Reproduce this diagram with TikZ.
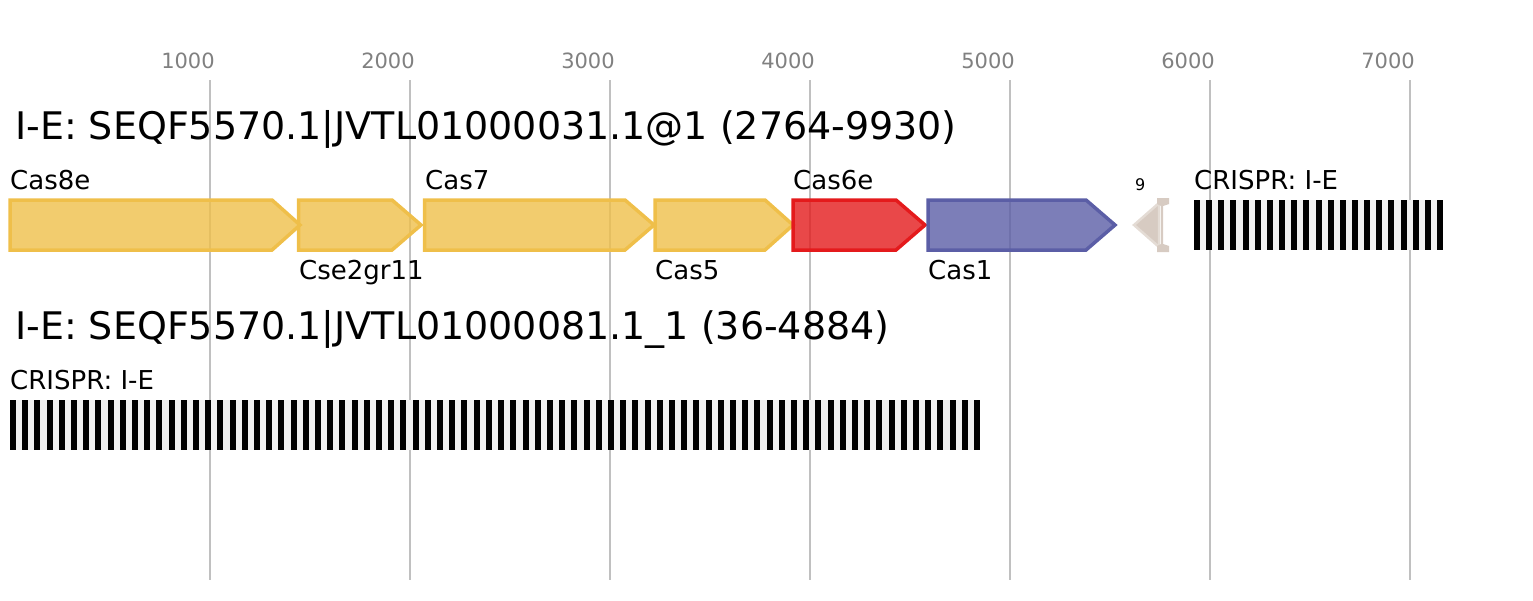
\documentclass[tikz,border=0pt]{standalone}
\usepackage{fontspec}
\setmainfont{DejaVu Sans}
\definecolor{gridgray}{HTML}{C0C0C0}
\definecolor{tickgray}{HTML}{808080}
\definecolor{geneyellow}{HTML}{EFBF4A}
\definecolor{genered}{HTML}{E41A1C}
\definecolor{geneblue}{HTML}{5B5EA6}
\definecolor{genebeige}{HTML}{D7CBC2}
\definecolor{genebeigeedge}{HTML}{E4DCD5}
\definecolor{spacergray}{HTML}{F0F0F0}
\newcommand\drawgeneR[4]{%
  \draw[genebox, draw=#4, fill=#4] (#1,200) -- (#2,200) -- (#3,225) -- (#2,250) -- (#1,250) -- cycle;}
\begin{document}
\begin{tikzpicture}[x=1pt,y=-1pt,
  gridline/.style={draw=gridgray, line width=2pt},
  genebox/.style={line width=3.5pt, line join=miter, fill opacity=0.8},
  ticklbl/.style={font=\fontsize{21}{21}\selectfont, text=tickgray, anchor=base, inner sep=0pt},
  tracktitle/.style={font=\fontsize{38}{38}\selectfont, anchor=base west, inner sep=0pt},
  genelbl/.style={font=\fontsize{26}{26}\selectfont, anchor=base west, inner sep=0pt},
  smalllbl/.style={font=\fontsize{16}{16}\selectfont, anchor=base west, inner sep=0pt},
  repeatbar/.style={fill=black},
  spacerbg/.style={fill=spacergray}]
\useasboundingbox (0,0) rectangle (1533,600);
% grid lines and tick labels
\foreach \k [count=\i from 0] in {1000,2000,3000,4000,5000,6000,7000} {
  \coordinate (gtop\i) at (210+200*\i,80);
  \coordinate (gbot\i) at (210+200*\i,580);
  \draw[gridline] (gtop\i) -- (gbot\i);
  \node[ticklbl] (tick\i) at (188+200*\i,68.5) {\k};
}
% track titles
\node[tracktitle] (title1) at (15,139) {I-E: SEQF5570.1|JVTL01000031.1@1 (2764-9930)};
\node[tracktitle] (title2) at (15,339) {I-E: SEQF5570.1|JVTL01000081.1\_1 (36-4884)};
% genes of track 1
\drawgeneR{10}{272}{300}{geneyellow}
\drawgeneR{298.5}{392}{421}{geneyellow}
\drawgeneR{424.5}{625}{654}{geneyellow}
\drawgeneR{655}{765}{793}{geneyellow}
\drawgeneR{793}{896}{925}{genered}
\drawgeneR{928}{1086}{1115}{geneblue}
% small left-pointing gene
\draw[fill=genebeige, draw=genebeigeedge, line width=2.5pt, line join=miter]
  (1159,203) -- (1134,225) -- (1159,247) -- cycle;
\fill[genebeige] (1157,198) -- (1169,198) -- (1169,204) -- (1163,206) -- (1163,244) -- (1169,246) -- (1169,252) -- (1157,252) -- (1157,246) -- (1161,244) -- (1161,206) -- (1157,204) -- cycle;
% gene labels
\node[genelbl] (lcas8e) at (10,189) {Cas8e};
\node[genelbl] (lcse2) at (299,279.5) {Cse2gr11};
\node[genelbl] (lcas7) at (425,189) {Cas7};
\node[genelbl] (lcas5) at (655,279.5) {Cas5};
\node[genelbl] (lcas6e) at (793,189) {Cas6e};
\node[genelbl] (lcas1) at (928,279.5) {Cas1};
\node[smalllbl] (l9) at (1135,190) {9};
% CRISPR array track 1
\fill[spacerbg] (1194,200) rectangle (1443,250);
\foreach \j in {0,...,20} {
  \fill[repeatbar] (1194+12.15*\j,200) rectangle (1200+12.15*\j,250);
}
\node[genelbl] (lcrispr1) at (1194,189) {CRISPR: I-E};
% CRISPR array track 2
\fill[spacerbg] (10,400) rectangle (980,450);
\foreach \j in {0,...,79} {
  \fill[repeatbar] (10+12.2025*\j,400) rectangle (16+12.2025*\j,450);
}
\node[genelbl] (lcrispr2) at (10,389) {CRISPR: I-E};
\end{tikzpicture}
\end{document}
